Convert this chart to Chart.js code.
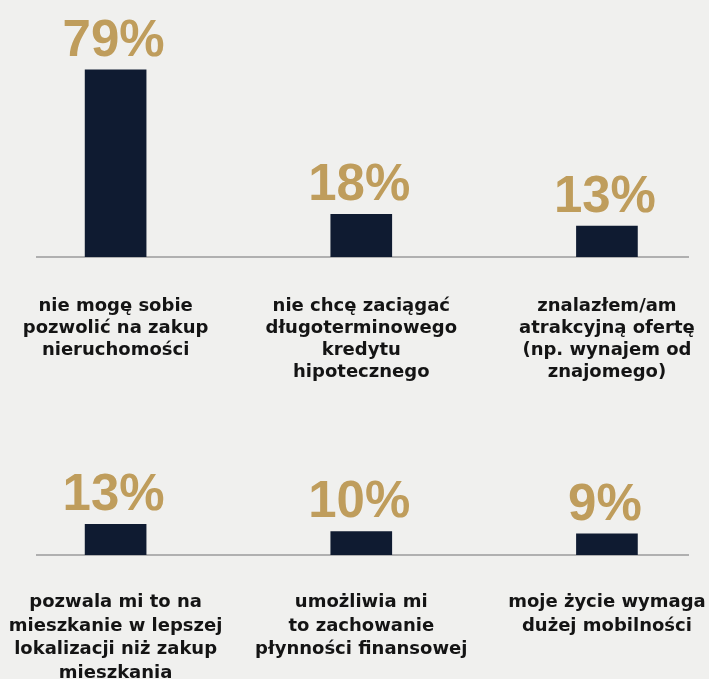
<!DOCTYPE html>
<html><head><meta charset="utf-8">
<script src="https://cdn.jsdelivr.net/npm/chart.js@4/dist/chart.umd.min.js"></script>
<style>
html,body{margin:0;padding:0;background:#f0f0ee;overflow:hidden;width:709px;height:679px;}
#top{position:absolute;left:0;top:0;width:709px;height:460px;}
#bot{position:absolute;left:0;top:380px;width:709px;height:339px;}
</style></head><body>
<div id="top"><canvas id="c1"></canvas></div>
<div id="bot"><canvas id="c2"></canvas></div>
<script>
const topCategories = [
  ["nie mogę sobie", "pozwolić na zakup", "nieruchomości"],
  ["nie chcę zaciągać", "długoterminowego", "kredytu", "hipotecznego"],
  ["znalazłem/am", "atrakcyjną ofertę", "(np. wynajem od", "znajomego)"]
];
const topValues = [79, 18, 13];
const bottomCategories = [
  ["pozwala mi to na", "mieszkanie w lepszej", "lokalizacji niż zakup", "mieszkania"],
  ["umożliwia mi", "to zachowanie", "płynności finansowej"],
  ["moje życie wymaga", "dużej mobilności"]
];
const bottomValues = [13, 10, 9];

const GOLD = '#bf9d5c', NAVY = '#0f1b31', TEXT = '#141414', LINE = '#b0b0b0';
const X_MIN = -0.32, X_MAX = 2.33;

const valueLabels = {
  id: 'valueLabels',
  afterDatasetsDraw(chart) {
    const ctx = chart.ctx;
    const meta = chart.getDatasetMeta(0);
    const ds = chart.data.datasets[0].data;
    ctx.save();
    ctx.fillStyle = GOLD;
    ctx.font = 'bold 51px "Liberation Sans"';
    ctx.textAlign = 'center';
    ctx.textBaseline = 'alphabetic';
    meta.data.forEach((bar, i) => {
      ctx.fillText(ds[i].y + '%', bar.x - 2, bar.y - 14);
    });
    ctx.restore();
  }
};

function makeChart(id, categories, values, yMax, pad, tickLen, lineH) {
  return new Chart(document.getElementById(id), {
    type: 'bar',
    data: {
      datasets: [{
        data: values.map((v, i) => ({ x: i, y: v })),
        backgroundColor: NAVY,
        borderWidth: 0,
        barThickness: 61
      }]
    },
    options: {
      responsive: true,
      maintainAspectRatio: false,
      animation: false,
      layout: { padding: pad },
      plugins: { legend: { display: false }, tooltip: { enabled: false } },
      scales: {
        x: {
          type: 'linear',
          min: X_MIN, max: X_MAX,
          bounds: 'data',
          offset: false,
          afterDataLimits: s => { s.min = X_MIN; s.max = X_MAX; },
          afterBuildTicks: s => { s.ticks = categories.map((_, i) => ({ value: i })); s.min = X_MIN; s.max = X_MAX; },
          grid: { display: true, drawOnChartArea: false, drawTicks: true, tickLength: tickLen, color: 'rgba(0,0,0,0)' },
          border: { display: true, color: LINE, width: 2 },
          ticks: {
            autoSkip: false, maxRotation: 0, minRotation: 0, padding: 0,
            color: TEXT,
            font: { family: '"DejaVu Sans"', size: 18, weight: 'bold', lineHeight: lineH },
            callback: v => categories[v]
          }
        },
        y: { display: false, min: 0, max: yMax }
      }
    },
    plugins: [valueLabels]
  });
}

makeChart('c1', topCategories, topValues, 100, { top: 20, left: 37, right: 21, bottom: 77 }, 38, '22px');
makeChart('c2', bottomCategories, bottomValues, 69.7, { top: 11, left: 37, right: 21, bottom: 34 }, 36, '23.5px');
</script>
</body></html>
